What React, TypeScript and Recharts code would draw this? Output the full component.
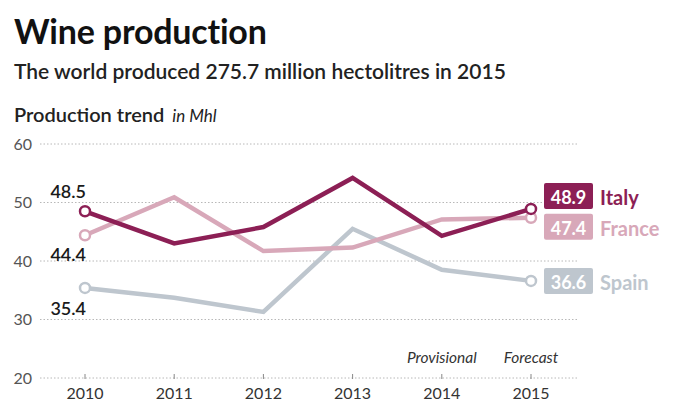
import React from 'react';
import { LineChart, Line, XAxis, YAxis, CartesianGrid, LabelList } from 'recharts';

const years = ['2010', '2011', '2012', '2013', '2014', '2015'];
const italy = [48.5, 43.0, 45.8, 54.2, 44.3, 48.9];
const france = [44.4, 50.9, 41.7, 42.3, 47.1, 47.4];
const spain = [35.4, 33.7, 31.3, 45.5, 38.5, 36.6];
const yTicks = [20, 30, 40, 50, 60];
const notes = ['', '', '', '', 'Provisional', 'Forecast'];

const FONT = 'Lato, "Noto Sans", sans-serif';

const data = years.map((year, i) => ({
  year,
  spain: spain[i],
  france: france[i],
  italy: italy[i],
}));

// drawn bottom to top
const series = [
  { key: 'spain', name: 'Spain', color: '#bec6ce', startDy: 20, endDy: 0 },
  { key: 'france', name: 'France', color: '#d8a8b9', startDy: 19, endDy: 9 },
  { key: 'italy', name: 'Italy', color: '#8c1f55', startDy: -20, endDy: -13 },
];

const last = years.length - 1;

// open circles on first and last point only
const makeDot = (color: string) => (props: any) => {
  const { cx, cy, index } = props;
  if (index !== 0 && index !== last) return <g key={`d-${index}`} />;
  return <circle key={`d-${index}`} cx={cx} cy={cy} r={5} fill="#fff" stroke={color} strokeWidth={2.5} />;
};

const makeLabel = (s: typeof series[number]) => (props: any) => {
  const { x, y, index, value } = props;
  if (index === 0) {
    return (
      <text x={x + 1} y={y + s.startDy} textAnchor="end" dominantBaseline="central"
        fontSize={18} fontWeight={600} fill="#1a1a1a" fontFamily={FONT}>
        {value}
      </text>
    );
  }
  if (index === last) {
    const bx = x + 13;
    const cy = y + s.endDy;
    return (
      <g>
        <rect x={bx} y={cy - 13} width={49} height={26} rx={2} fill={s.color} />
        <text x={bx + 24.5} y={cy + 1} textAnchor="middle" dominantBaseline="central"
          fontSize={18} fontWeight={700} fill="#fff" fontFamily={FONT}>
          {value}
        </text>
        <text x={bx + 56} y={cy + 1} dominantBaseline="central"
          fontSize={20} fontWeight={700} fill={s.color} fontFamily={FONT}>
          {s.name}
        </text>
      </g>
    );
  }
  return null;
};

const XTick = (props: any) => {
  const { x, y, payload, index } = props;
  const note = notes[index];
  return (
    <g>
      <line x1={x} x2={x} y1={y - 12} y2={y - 7} stroke="#888" strokeWidth={1} />
      {note && (
        <text x={x} y={y - 23} textAnchor="middle" fontSize={15.5} fontStyle="italic"
          fill="#333" fontFamily={FONT}>
          {note}
        </text>
      )}
      <text x={x} y={y + 13} textAnchor="middle" fontSize={16} fill="#333" fontFamily={FONT}>
        {payload.value}
      </text>
    </g>
  );
};

export default function App() {
  return (
    <div style={{ position: 'absolute', left: 0, top: 0, width: 693, height: 416, background: '#fff', fontFamily: FONT }}>
      <div style={{ position: 'absolute', left: 14, top: 10, fontSize: 34, fontWeight: 700, color: '#111', letterSpacing: -0.2 }}>
        Wine production
      </div>
      <div style={{ position: 'absolute', left: 14, top: 58, fontSize: 21, fontWeight: 600, color: '#222' }}>
        The world produced 275.7 million hectolitres in 2015
      </div>
      <div style={{ position: 'absolute', left: 14, top: 102, fontSize: 20, color: '#222' }}>
        <span style={{ fontWeight: 600 }}>Production trend</span>
        <span style={{ fontStyle: 'italic', marginLeft: 8, fontSize: 17 }}>in Mhl</span>
      </div>
      <div style={{ position: 'absolute', left: 0, top: 0 }}>
        <LineChart width={693} height={416} data={data} margin={{ top: 144, right: 115, bottom: 8, left: 0 }}>
          <CartesianGrid vertical={false} stroke="#b8b8b8" strokeDasharray="1.5 2" />
          <XAxis dataKey="year" height={30} axisLine={false} tickLine={false} tick={<XTick />}
            padding={{ left: 45, right: 47 }} interval={0} />
          <YAxis width={40} domain={[20, 60]} ticks={yTicks} axisLine={false} tickLine={false}
            tick={{ fontSize: 16, fill: '#555', fontFamily: FONT }} />
          {series.map((s) => (
            <Line key={s.key} type="linear" dataKey={s.key} stroke={s.color} strokeWidth={4.5}
              dot={makeDot(s.color)} activeDot={false} isAnimationActive={false}>
              <LabelList dataKey={s.key} content={makeLabel(s)} />
            </Line>
          ))}
        </LineChart>
      </div>
    </div>
  );
}
